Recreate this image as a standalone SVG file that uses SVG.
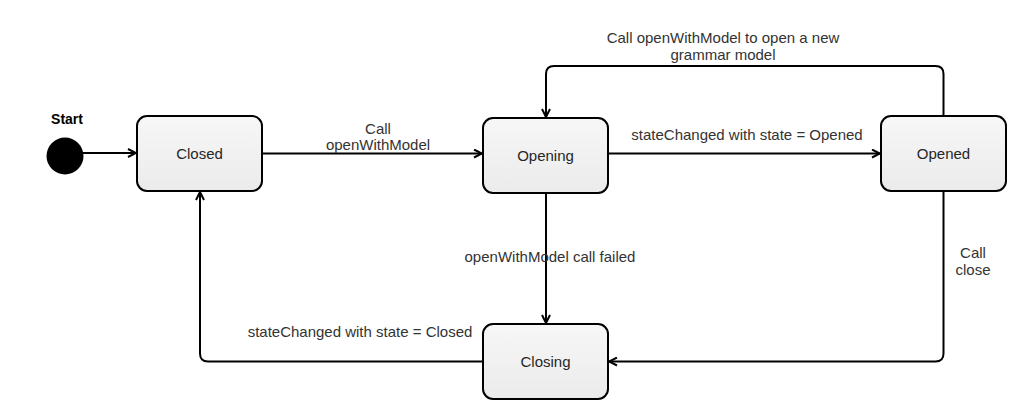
<svg xmlns="http://www.w3.org/2000/svg" width="1026" height="419" viewBox="0 0 1026 419">
<defs>
<linearGradient id="g" x1="0" y1="0" x2="0" y2="1">
<stop offset="0" stop-color="#f7f7f7"/>
<stop offset="1" stop-color="#ebebeb"/>
</linearGradient>
<marker id="arr" viewBox="0 0 10 10" refX="9" refY="5" markerWidth="10" markerHeight="10" markerUnits="userSpaceOnUse" orient="auto">
<path d="M1,1 L9,5 L1,9" fill="none" stroke="#000" stroke-width="2"/>
</marker>
</defs>
<style>
.box{fill:url(#g);stroke:#000;stroke-width:2}
.nt{font-family:"Liberation Sans",Arial,sans-serif;font-size:15px;fill:#262626;text-anchor:middle}
.lb{font-family:"Liberation Sans",Arial,sans-serif;font-size:15px;fill:#333;text-anchor:middle}
.edge{fill:none;stroke:#000;stroke-width:2;marker-end:url(#arr)}
</style>
<rect width="1026" height="419" fill="#fff"/>
<g id="connectors">
<path class="edge" d="M83,153 L136,153"/>
<path class="edge" d="M262,153.5 L482,153.5"/>
<path class="edge" d="M608,153.5 L880,153.5"/>
<path class="edge" d="M943.5,116 L943.5,74 Q943.5,66 935.5,66 L554,66 Q546,66 546,74 L546,117"/>
<path class="edge" d="M546,193 L546,323"/>
<path class="edge" d="M943.5,191 L943.5,353.5 Q943.5,361.5 935.5,361.5 L609,361.5"/>
<path class="edge" d="M483,361.5 L208,361.5 Q200,361.5 200,353.5 L200,192"/>
<text class="lb" x="378" y="134">Call</text>
<text class="lb" x="378" y="150">openWithModel</text>
<text class="lb" x="747" y="140">stateChanged with state = Opened</text>
<text class="lb" x="723" y="43">Call openWithModel to open a new</text>
<text class="lb" x="723" y="60">grammar model</text>
<text class="lb" x="550" y="262">openWithModel call failed</text>
<text class="lb" x="973" y="258">Call</text>
<text class="lb" x="973" y="275">close</text>
<text class="lb" x="360" y="337">stateChanged with state = Closed</text>
</g>
<g id="start">
<circle cx="65" cy="156" r="18.5" fill="#000"/>
<text x="67" y="124" font-family="Liberation Sans, Arial, sans-serif" font-size="14" font-weight="bold" fill="#000" text-anchor="middle">Start</text>
</g>
<g id="closed">
<rect class="box" x="137" y="116" width="125" height="75" rx="10"/>
<text class="nt" x="199.5" y="159">Closed</text>
</g>
<g id="opening">
<rect class="box" x="483" y="118" width="125" height="75" rx="10"/>
<text class="nt" x="545.5" y="161">Opening</text>
</g>
<g id="opened">
<rect class="box" x="881" y="116" width="125" height="75" rx="10"/>
<text class="nt" x="943.5" y="159">Opened</text>
</g>
<g id="closing">
<rect class="box" x="483" y="324" width="125" height="75" rx="10"/>
<text class="nt" x="545.5" y="367">Closing</text>
</g>
</svg>
